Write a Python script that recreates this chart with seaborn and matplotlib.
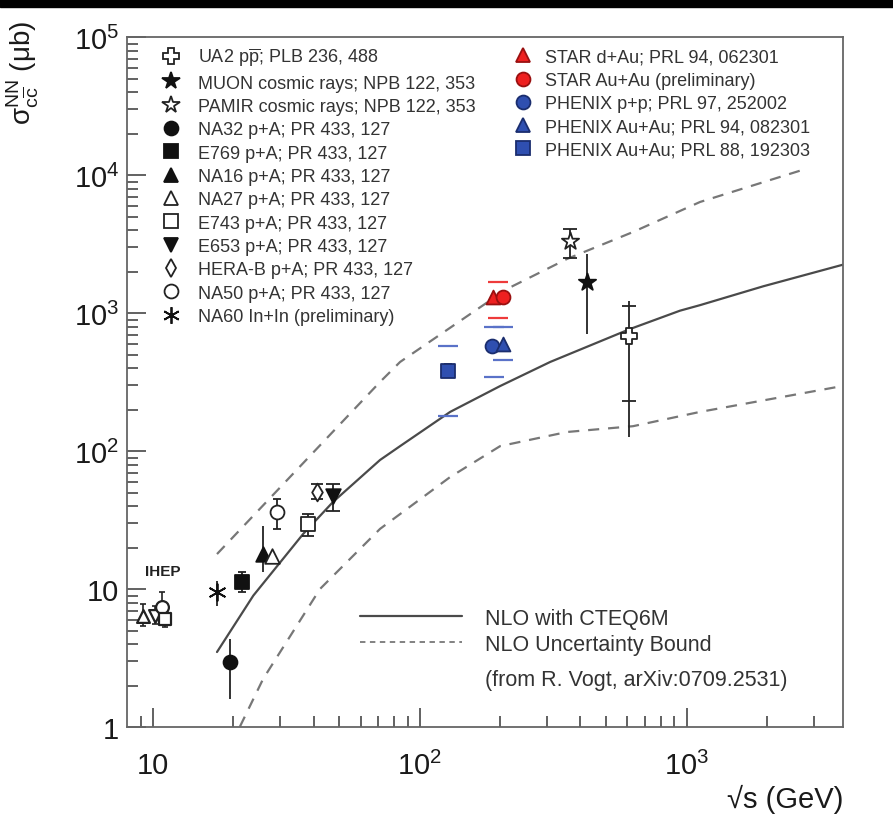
### -------------------- ###
###  Libraries
### -------------------- ###
import numpy as np
import pandas as pd
import matplotlib
matplotlib.use("Agg")
import matplotlib.pyplot as plt
from matplotlib.lines import Line2D
from matplotlib.patches import Rectangle
from matplotlib.ticker import FixedLocator, FixedFormatter, LogLocator, NullFormatter
import seaborn as sns

### -------------------- ###
###  Data (sqrt(s) in GeV, sigma in microbarn)
### -------------------- ###
# NLO with CTEQ6M (central) and uncertainty bounds
nlo_x = [17.4, 23.8, 36.6, 47.3, 71.0, 84.4, 130, 200, 308, 613, 944, 1122, 1936, 3845]
nlo_y = [3.51, 9.0, 25.2, 42.9, 86.5, 109, 193, 297, 444, 769, 1045, 1146, 1570, 2250]
upper_x = [17.4, 71.0, 84.4, 212, 356, 629, 1122, 2656]
upper_y = [18.0, 318, 444, 1500, 2476, 3882, 6410, 10800]
lower_x = [21.2, 25.9, 42.3, 71.0, 130, 200, 356, 629, 1122, 3645]
lower_y = [1.01, 2.24, 10.05, 27.4, 65.1, 109, 138, 152, 193, 292]

# measurements
exp_name = ["UA2", "MUON", "PAMIR", "NA32", "E769", "NA16", "NA27", "E743",
            "E653", "HERA-B", "NA50", "NA60",
            "STAR dAu", "STAR AuAu", "PHENIX pp", "PHENIX AuAu 94", "PHENIX AuAu 88"]
exp_x = [609, 422, 365, 19.5, 21.5, 25.9, 27.9, 38.3,
         47.5, 41.1, 29.1, 17.4,
         188.7, 204.6, 186, 204.6, 128]
exp_y = [688, 1694, 3357, 2.96, 11.2, 18.0, 17.5, 29.7,
         47.7, 50.5, 36.1, 9.5,
         1306, 1306, 576, 599, 384]
err_lo = [126, 709, 2505, 1.61, 9.6, 13.3, np.nan, 24.5,
          37, 45.1, 27.3, 7.6,
          np.nan, np.nan, np.nan, np.nan, 345]
err_hi = [1234, 2690, 4080, 4.37, 13.4, 28.9, np.nan, 35,
          57.6, 57.6, 45, 11.5,
          np.nan, np.nan, np.nan, np.nan, 430]
err_cap = [0, 0, 5, 0, 3, 0, 0, 4, 5, 4, 3, 0, 0, 0, 0, 0, 3]

# UA2 inner ticks on the error bar
ua2_tick = [230, 1135]

# RHIC systematic brackets
sys_x = [196, 190, 205, 128]
sys_lo = [920, 344, 461, 181]
sys_hi = [1694, 800, 790, 583]
sys_col = ["#ee3b3b", "#5a72c8", "#5a72c8", "#5a72c8"]

# IHEP low energy cluster
ihep_x = [9.2, 10.2, 10.8, 11.1]
ihep_y = [6.44, 6.44, 7.4, 6.1]
ihep_lo = [5.4, 5.6, 6.3, 5.3]
ihep_hi = [7.8, 7.6, 9.6, 7.0]
ihep_marker = ["^", "v", "o", "s"]

legend_left = [
    r"UA2 p$\mathregular{\overline{p}}$; PLB 236, 488",
    "MUON cosmic rays; NPB 122, 353",
    "PAMIR cosmic rays; NPB 122, 353",
    "NA32 p+A; PR 433, 127",
    "E769 p+A; PR 433, 127",
    "NA16 p+A; PR 433, 127",
    "NA27 p+A; PR 433, 127",
    "E743 p+A; PR 433, 127",
    "E653 p+A; PR 433, 127",
    "HERA-B p+A; PR 433, 127",
    "NA50 p+A; PR 433, 127",
    "NA60 In+In (preliminary)",
]
legend_right = [
    "STAR d+Au; PRL 94, 062301",
    "STAR Au+Au (preliminary)",
    "PHENIX p+p; PRL 97, 252002",
    "PHENIX Au+Au; PRL 94, 082301",
    "PHENIX Au+Au; PRL 88, 192303",
]

### -------------------- ###
###  Styles
### -------------------- ###
RED, RED_E = "#ee2020", "#9a1010"
BLUE, BLUE_E = "#2f4fb0", "#1a2d6e"
# marker, face, edge, size (pt)
style = {
    "UA2": ("P", "white", "#222222", 11),
    "MUON": ("*", "#111111", "#111111", 13),
    "PAMIR": ("*", "white", "#222222", 13),
    "NA32": ("o", "#111111", "#111111", 10),
    "E769": ("s", "#111111", "#111111", 9.5),
    "NA16": ("^", "#111111", "#111111", 10.5),
    "NA27": ("^", "white", "#222222", 10.5),
    "E743": ("s", "white", "#222222", 9.5),
    "E653": ("v", "#111111", "#111111", 10.5),
    "HERA-B": ("d", "white", "#222222", 9),
    "NA50": ("o", "white", "#222222", 10),
    "NA60": ((6, 2, 0), "#111111", "#111111", 12),
    "STAR dAu": ("^", RED, RED_E, 10),
    "STAR AuAu": ("o", RED, RED_E, 10),
    "PHENIX pp": ("o", BLUE, BLUE_E, 10),
    "PHENIX AuAu 94": ("^", BLUE, BLUE_E, 10),
    "PHENIX AuAu 88": ("s", BLUE, BLUE_E, 9.5),
}

sns.set_style("white")
plt.rcParams["font.family"] = ["Liberation Sans", "DejaVu Sans"]
plt.rcParams["mathtext.fontset"] = "custom"
plt.rcParams["mathtext.rm"] = "Liberation Sans"
plt.rcParams["mathtext.it"] = "Liberation Sans:italic"
plt.rcParams["mathtext.bf"] = "Liberation Sans:bold"

fig = plt.figure(figsize=(8.93, 8.37), dpi=100)
ax = fig.add_axes([0.1426, 0.1299, 0.8014, 0.8243])
ax.set_xscale("log")
ax.set_yscale("log")

# black strip on top of the original picture
fig.patches.append(Rectangle((0, 1 - 8 / 837), 1, 8 / 837, transform=fig.transFigure,
                             color="black", zorder=10))

### -------------------- ###
###  Curves
### -------------------- ###
sns.lineplot(x=nlo_x, y=nlo_y, ax=ax, color="#4a4a4a", lw=1.6, sort=False, estimator=None)
sns.lineplot(x=upper_x, y=upper_y, ax=ax, color="#777777", lw=1.6, sort=False,
             estimator=None, linestyle=(0, (5, 4)))
sns.lineplot(x=lower_x, y=lower_y, ax=ax, color="#777777", lw=1.6, sort=False,
             estimator=None, linestyle=(0, (5, 4)))

### -------------------- ###
###  Error bars and points
### -------------------- ###
df = pd.DataFrame({"name": exp_name, "x": exp_x, "y": exp_y,
                   "lo": err_lo, "hi": err_hi, "cap": err_cap})

for _, r in df.dropna(subset=["lo"]).iterrows():
    ax.errorbar([r.x], [r.y], yerr=[[r.y - r.lo], [r.hi - r.y]], fmt="none",
                ecolor="#222222", elinewidth=1.3, capsize=r.cap, capthick=1.3, zorder=2)

# ticks on the UA2 bar
ua2 = df[df.name == "UA2"].iloc[0]
ax.errorbar([ua2.x], [ua2.y], yerr=[[ua2.y - ua2_tick[0]], [ua2_tick[1] - ua2.y]],
            fmt="none", ecolor="#222222", elinewidth=0, capsize=5, capthick=1.3, zorder=2)

# systematic brackets
for x, lo, hi, c in zip(sys_x, sys_lo, sys_hi, sys_col):
    mid = np.sqrt(lo * hi)
    ax.errorbar([x], [mid], yerr=[[mid - lo], [hi - mid]], fmt="none", ecolor=c,
                elinewidth=0, capsize=7, capthick=1.6, zorder=2)

for _, r in df.iterrows():
    m, fc, ec, ms = style[r["name"]]
    sns.scatterplot(x=[r.x], y=[r.y], ax=ax, marker=m, s=ms ** 2, color=fc,
                    edgecolor=ec, linewidth=1.3, zorder=3)

# IHEP
ax.errorbar(ihep_x, ihep_y, yerr=[np.subtract(ihep_y, ihep_lo), np.subtract(ihep_hi, ihep_y)],
            fmt="none", ecolor="#222222", elinewidth=1.2, capsize=2.5, capthick=1.2, zorder=2)
for x, y, m in zip(ihep_x, ihep_y, ihep_marker):
    sns.scatterplot(x=[x], y=[y], ax=ax, marker=m, s=85, color="white",
                    edgecolor="#222222", linewidth=1.6, zorder=3)
ax.text(9.36, 13.6, "IHEP", fontsize=11, fontweight="bold", va="center", ha="left",
        color="#222222")

### -------------------- ###
###  Axes
### -------------------- ###
ax.set_xlim(8.03, 3850)
ax.set_ylim(1, 1e5)

ax.xaxis.set_major_locator(FixedLocator([10, 100, 1000]))
ax.xaxis.set_major_formatter(FixedFormatter(["10", r"$\mathregular{10^2}$", r"$\mathregular{10^3}$"]))
ax.yaxis.set_major_locator(FixedLocator([1, 10, 100, 1e3, 1e4, 1e5]))
ax.yaxis.set_major_formatter(FixedFormatter(["1", "10", r"$\mathregular{10^2}$",
                                             r"$\mathregular{10^3}$", r"$\mathregular{10^4}$",
                                             r"$\mathregular{10^5}$"]))
for a in (ax.xaxis, ax.yaxis):
    a.set_minor_locator(LogLocator(base=10, subs=np.arange(2, 10), numticks=20))
    a.set_minor_formatter(NullFormatter())

ax.tick_params(which="both", bottom=True, left=True, top=False, right=False)
ax.tick_params(which="major", direction="in", length=14, width=1.3, color="#555555",
               labelsize=21, labelcolor="#1a1a1a")
ax.tick_params(which="minor", direction="in", length=8, width=1.3, color="#555555")
ax.tick_params(axis="x", which="major", pad=17)
ax.tick_params(axis="y", which="major", pad=6)
for s in ax.spines.values():
    s.set_color("#666666")
    s.set_linewidth(1.3)

ax.set_xlabel("√s (GeV)", fontsize=21, loc="right", color="#1a1a1a")
ax.xaxis.set_label_coords(1.0, -0.082)
ax.set_ylabel(r"$\mathregular{σ^{NN}_{c\overline{c}}}$ (μb)", fontsize=20, loc="top",
              color="#1a1a1a")
ax.yaxis.set_label_coords(-0.12, 1.025)

### -------------------- ###
###  Legends
### -------------------- ###
def handle(name):
    m, fc, ec, ms = style[name]
    return Line2D([], [], ls="none", marker=m, mfc=fc, mec=ec, ms=ms, mew=1.3)

h_left = [handle(n) for n in exp_name[:12]]
h_right = [handle(n) for n in exp_name[12:]]

leg1 = ax.legend(h_left, legend_left, loc="upper left", bbox_to_anchor=(157 / 893, 1 - 47 / 837),
                 bbox_transform=fig.transFigure, frameon=False, fontsize=13, borderpad=0,
                 borderaxespad=0, labelspacing=0.35, handlelength=1.5, handletextpad=0.75,
                 labelcolor="#333333")
ax.add_artist(leg1)
leg2 = ax.legend(h_right, legend_right, loc="upper left", bbox_to_anchor=(514 / 893, 1 - 49.5 / 837),
                 bbox_transform=fig.transFigure, frameon=False, fontsize=13, borderpad=0,
                 borderaxespad=0, labelspacing=0.35, handlelength=1.0, handletextpad=0.7,
                 labelcolor="#333333")
ax.add_artist(leg2)

h_nlo = [Line2D([], [], color="#4a4a4a", lw=1.6),
         Line2D([], [], color="#777777", lw=1.3, linestyle=(0, (3, 2.5)))]
ax.legend(h_nlo, ["NLO with CTEQ6M", "NLO Uncertainty Bound"], loc="upper left",
          bbox_to_anchor=(360 / 893, 1 - 609 / 837), bbox_transform=fig.transFigure,
          frameon=False, fontsize=15.5, borderpad=0, borderaxespad=0, labelspacing=0.22,
          handlelength=4.74, handletextpad=1.07, labelcolor="#333333")
fig.text(485 / 893, 1 - 681 / 837, "(from R. Vogt, arXiv:0709.2531)", fontsize=15.5,
         va="center", ha="left", color="#333333")

fig.savefig("out.png", dpi=100)
